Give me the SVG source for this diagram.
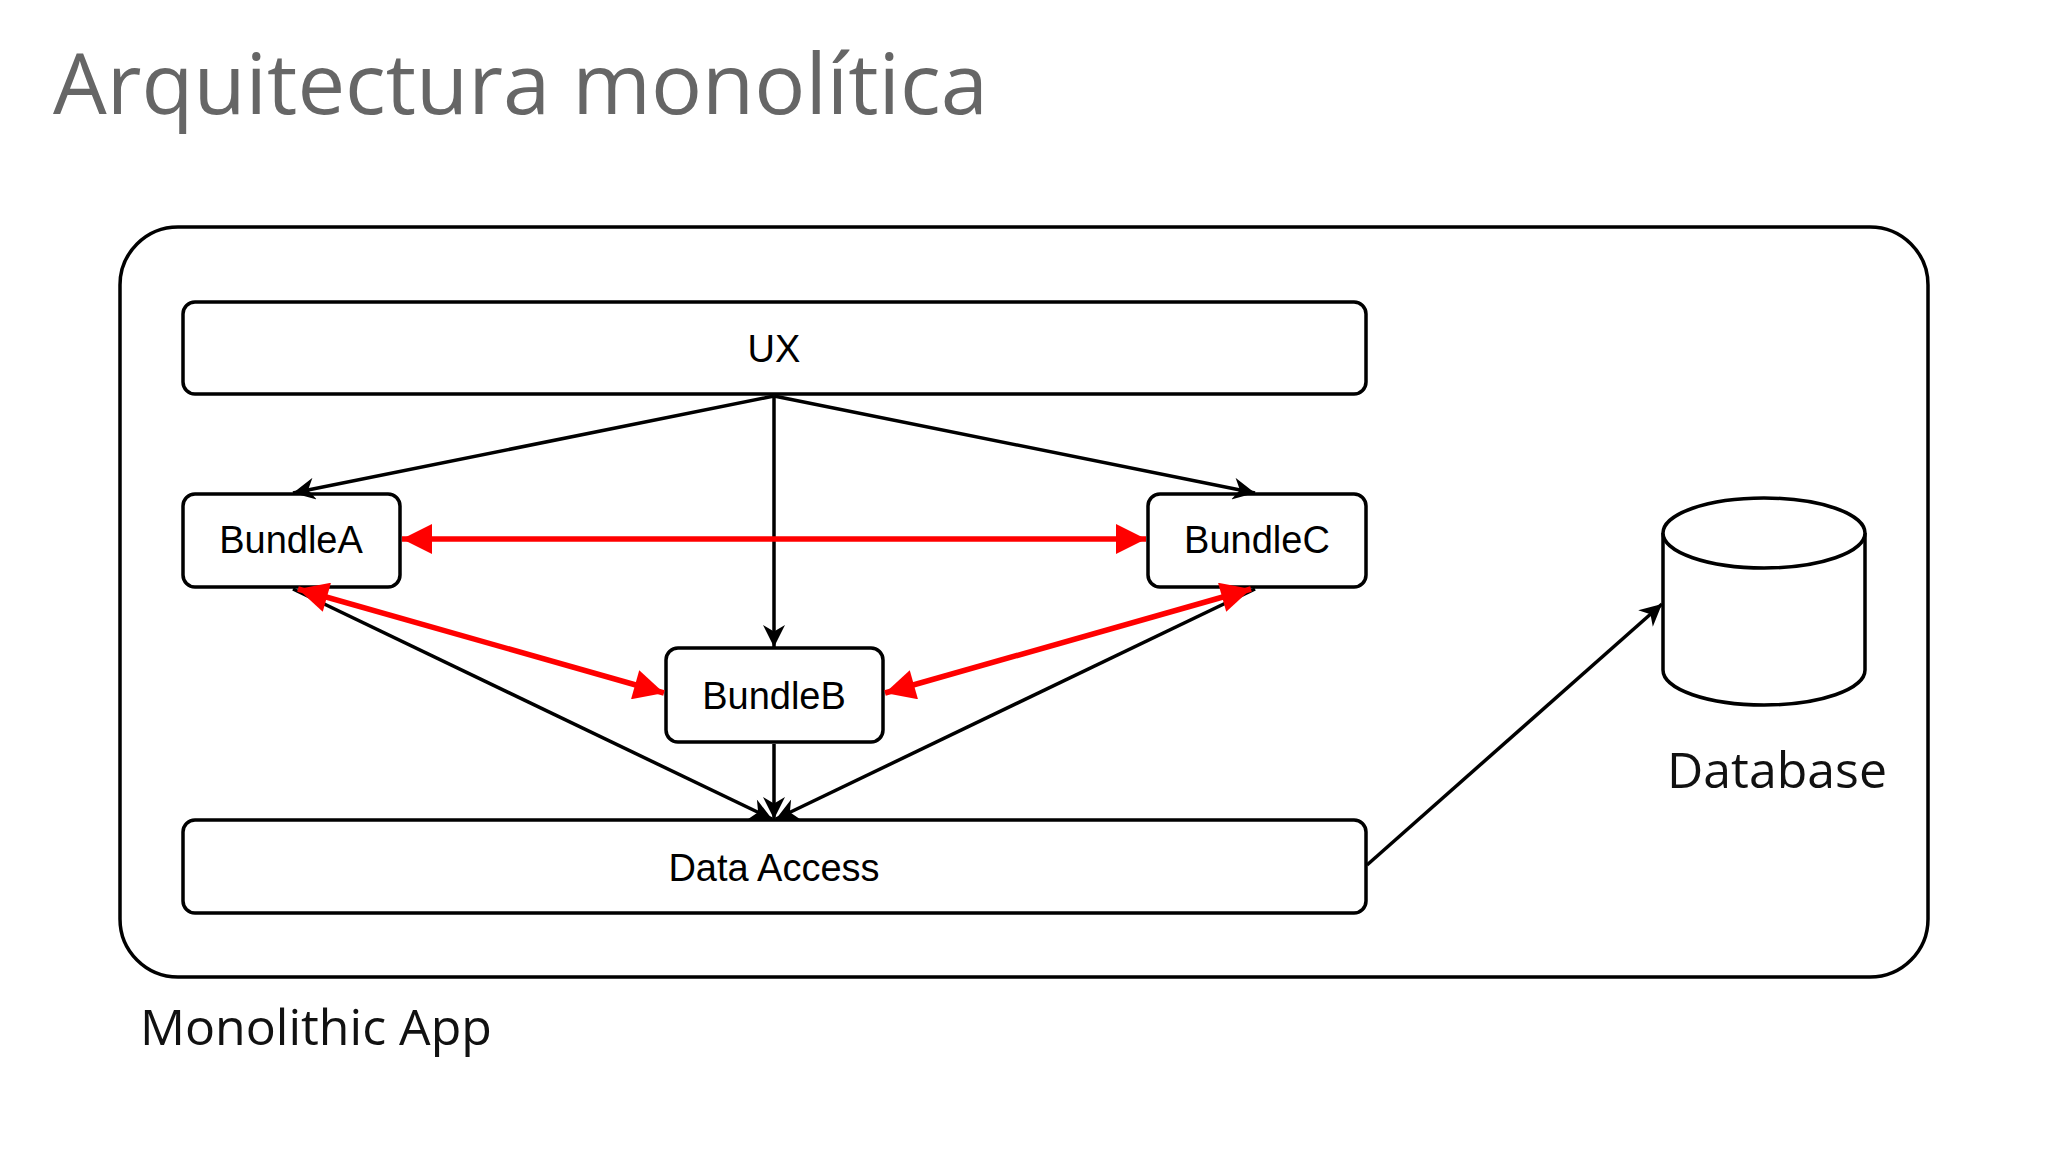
<svg xmlns="http://www.w3.org/2000/svg" width="2048" height="1152" viewBox="0 0 2048 1152">
<style>
.box{fill:#fff;stroke:#000;stroke-width:3.5}
.lbl{font-family:"Liberation Sans",Arial,sans-serif;font-size:38px;text-anchor:middle;fill:#000}
.big{font-family:"Open Sans",sans-serif;font-size:50px;fill:#111}
.blk{stroke:#000;stroke-width:3.5;fill:none;marker-end:url(#ab)}
.red{stroke:#f00;stroke-width:5.5;fill:none;marker-end:url(#ar);marker-start:url(#ars)}
</style>
<defs>
<marker id="ab" viewBox="0 0 10 10" refX="10" refY="5" markerWidth="26" markerHeight="22" markerUnits="userSpaceOnUse" orient="auto"><path d="M0,0 L10,5 L0,10 L3,5 z" fill="#000"/></marker>
<marker id="ar" viewBox="0 0 10 10" refX="10" refY="5" markerWidth="42" markerHeight="30" markerUnits="userSpaceOnUse" orient="auto"><path d="M0,0 L10,5 L0,10 z" fill="#f00"/></marker>
<marker id="ars" viewBox="0 0 10 10" refX="0" refY="5" markerWidth="42" markerHeight="30" markerUnits="userSpaceOnUse" orient="auto"><path d="M10,0 L0,5 L10,10 z" fill="#f00"/></marker>
</defs>
<rect width="2048" height="1152" fill="#fff"/>
<text x="53" y="114" font-family="Open Sans,sans-serif" font-size="85" fill="#666">Arquitectura monolítica</text>
<g id="app"><rect x="120" y="227" width="1808" height="750" rx="58" fill="#fff" stroke="#000" stroke-width="3.5"/>
<text class="big" x="140" y="1045">Monolithic App</text></g>
<g id="ux"><rect class="box" x="183" y="302" width="1183" height="92" rx="12"/><text class="lbl" x="774" y="362">UX</text></g>
<g id="bundleA"><rect class="box" x="183" y="494" width="217" height="93" rx="12"/><text class="lbl" x="291" y="553">BundleA</text></g>
<g id="bundleC"><rect class="box" x="1148" y="494" width="218" height="93" rx="12"/><text class="lbl" x="1257" y="553">BundleC</text></g>
<g id="bundleB"><rect class="box" x="666" y="648" width="217" height="94" rx="12"/><text class="lbl" x="774" y="709">BundleB</text></g>
<g id="dataAccess"><rect class="box" x="183" y="820" width="1183" height="93" rx="12"/><text class="lbl" x="774" y="881">Data Access</text></g>
<g id="database">
<path d="M1663,533 L1663,670 A101,35 0 0 0 1865,670 L1865,533" fill="#fff" stroke="#000" stroke-width="3.5"/>
<ellipse cx="1764" cy="533" rx="101" ry="35" fill="#fff" stroke="#000" stroke-width="3.5"/>
<text class="big" x="1777" y="788" text-anchor="middle">Database</text></g>
<g id="connectors">
<path class="blk" d="M774,396 L293,493"/>
<path class="blk" d="M774,396 L1255,493"/>
<path class="blk" d="M774,396 L774,647"/>
<path class="blk" d="M293,589 L772,819"/>
<path class="blk" d="M1255,589 L776,819"/>
<path class="blk" d="M774,744 L774,819"/>
<path class="blk" d="M1367,865 L1662,604"/>
<path class="red" d="M402,539 L1146,539"/>
<path class="red" d="M298,589 L664,693"/>
<path class="red" d="M1251,589 L885,693"/>
</g>
</svg>
